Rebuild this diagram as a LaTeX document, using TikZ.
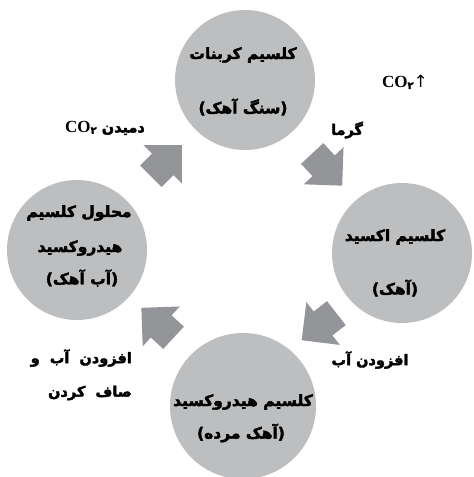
\documentclass[tikz,border=0pt]{standalone}
\usepackage{fontspec}
\usetikzlibrary{shapes.arrows}
\TeXXeTstate=1
\newfontfamily\fa[Script=Arabic,BoldFont={DejaVu Sans Bold},BoldFeatures={FakeBold=2.5}]{DejaVu Sans}
\newfontfamily\lat{Liberation Serif}
\newfontfamily\symf{DejaVu Sans}
\definecolor{circgray}{HTML}{BCBEC0}
\definecolor{arrgray}{HTML}{939598}
\begin{document}
\begin{tikzpicture}[x=1pt,y=-1pt,
  circ/.style={circle,fill=circgray,minimum size=140pt,inner sep=0pt},
  blk/.style={single arrow,fill=arrgray,minimum height=44pt,minimum width=54pt,
    single arrow head extend=12pt,single arrow tip angle=90,inner xsep=0pt,inner ysep=15pt},
  ctext/.style={font=\fa\bfseries\fontsize{15.5}{15.5}\selectfont,inner sep=0pt},
  lbl/.style={font=\fa\bfseries\fontsize{14.5}{14.5}\selectfont,inner sep=0pt},
  co/.style={font=\lat\bfseries\fontsize{17}{17}\selectfont,inner sep=0pt}]
\useasboundingbox (0,0) rectangle (474,477);
\clip (0,0) rectangle (474,477);
% circles
\node[circ] (ctop) at (245,80) {};
\node[circ] (cright) at (402,253) {};
\node[circ] (cleft) at (77,250) {};
\node[circ,minimum size=146pt] (cbot) at (243,406) {};
% circle texts
\node[ctext] (t1a) at (243,55) {\beginR کلسیم کربنات\endR};
\node[ctext] (t1b) at (243,107) {\beginR (سنگ آهک)\endR};
\node[ctext] (t2a) at (395,237) {\beginR کلسیم اکسید\endR};
\node[ctext] (t2b) at (395,288) {\beginR (آهک)\endR};
\node[ctext] (t3a) at (243,402) {\beginR کلسیم هیدروکسید\endR};
\node[ctext] (t3b) at (241,433) {\beginR (آهک مرده)\endR};
\node[ctext] (t4a) at (79,213) {\beginR محلول کلسیم\endR};
\node[ctext] (t4b) at (80,248) {\beginR هیدروکسید\endR};
\node[ctext] (t4c) at (82,278) {\beginR (آب آهک)\endR};
% block arrows
\node[blk,rotate=-47] (a1) at (322,164) {};
\node[blk,rotate=218] (a2) at (325,322) {};
\node[blk,rotate=137] (a3) at (163,328) {};
\node[blk,rotate=45] (a4) at (161,166) {};
% labels
\node[lbl] (l1) at (347,130) {\beginR گرما\endR};
\node[co] (l2) at (405,82) {CO{\fa\fontsize{10}{10}\selectfont\raisebox{-0.25ex}{۲}}{\symf\mdseries\fontsize{17}{17}\selectfont ↑}};
\node[lbl] (l3) at (370,360) {\beginR افزودن آب\endR};
\node[lbl,anchor=east] (l4) at (132,358) {\beginR افزودن\ \ آب\ \ و\endR};
\node[lbl,anchor=east] (l5) at (132,393) {\beginR صاف\ \ کردن\endR};
\node[lbl] (l6) at (105,128) {{\lat\fontsize{17}{17}\selectfont CO}{\fontsize{10}{10}\selectfont\raisebox{-0.25ex}{۲}}\ \beginR دمیدن\endR};
\end{tikzpicture}
\end{document}
